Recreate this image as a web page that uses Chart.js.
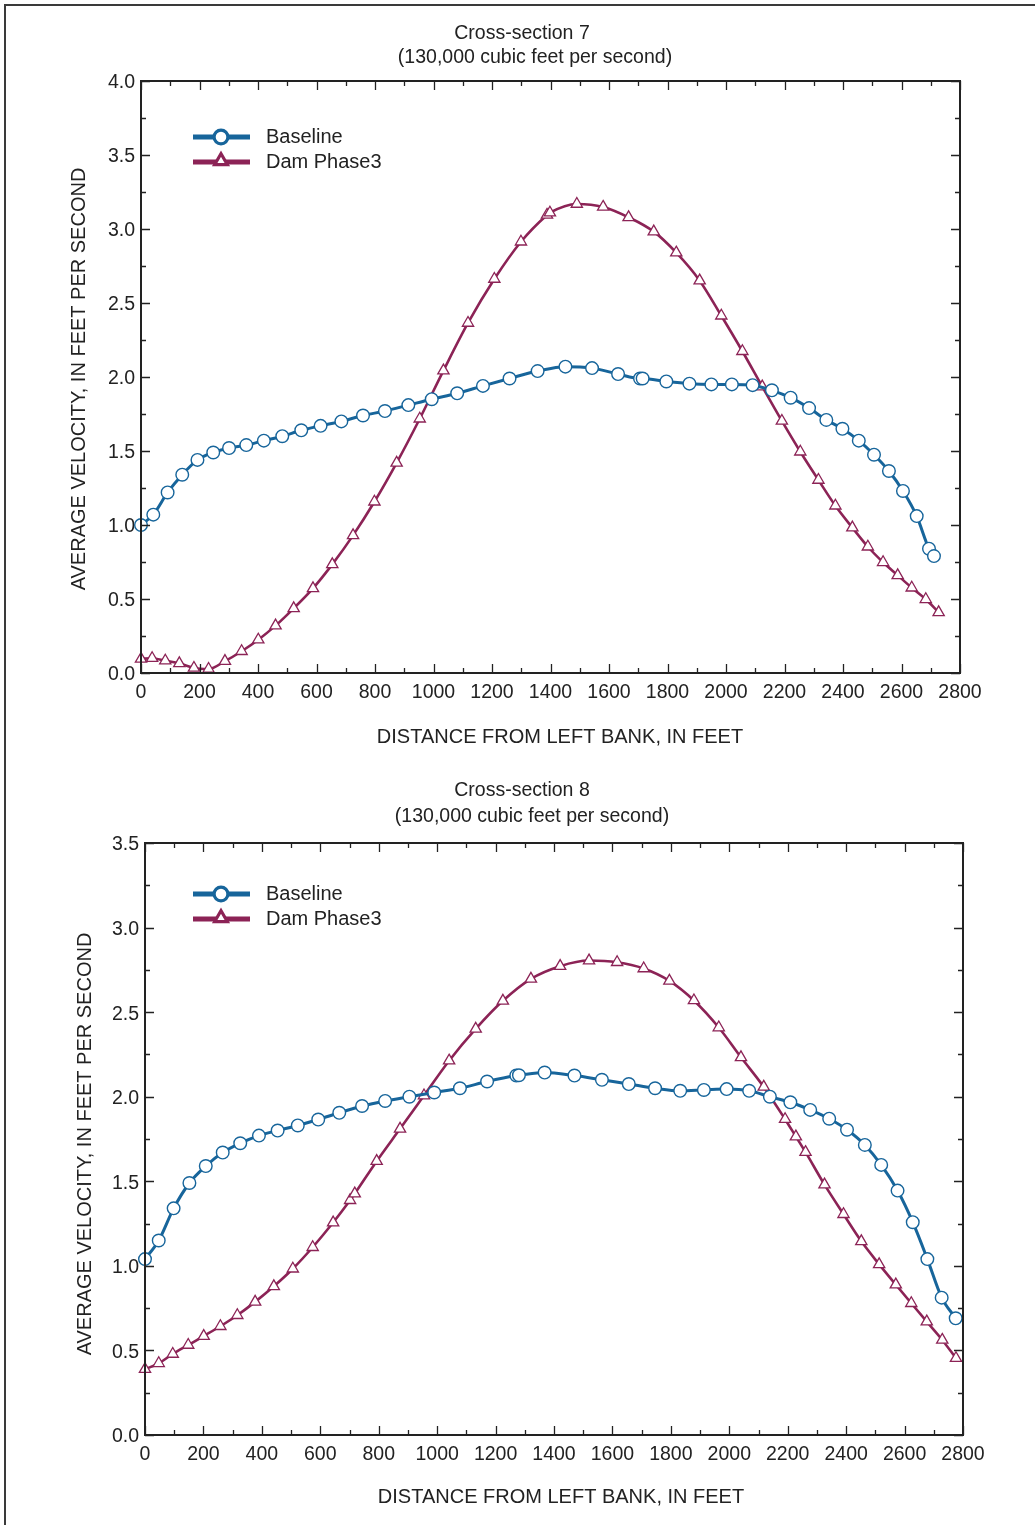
<!DOCTYPE html>
<html>
<head>
<meta charset="utf-8">
<title>Average velocity, cross-sections 7 and 8</title>
<script src="https://cdn.jsdelivr.net/npm/chart.js@4.4.1/dist/chart.umd.min.js"></script>
<style>
    html, body { margin: 0; padding: 0; background: #fff; }
    #page { position: relative; width: 1035px; height: 1525px; overflow: hidden; }
    #frame { position: absolute; left: 4px; top: 4px; width: 1040px; height: 1530px;
             border-left: 2px solid #3a3a3a; border-top: 2px solid #3a3a3a; }
    canvas { position: absolute; left: 0; }
    #chart7 { top: 0; }
    #chart8 { top: 760px; }
</style>
</head>
<body>
<div id="page">
    <div id="frame"></div>
    <canvas id="chart7" width="1035" height="760"></canvas>
    <canvas id="chart8" width="1035" height="765"></canvas>
</div>
<script>
// Cross-section 7 — distance from left bank (ft) and velocity (ft/s)
const xs7Baseline = [0, 42, 91, 141, 193, 247, 301, 360, 420, 483, 548, 614, 685, 759, 834, 914, 994, 1081, 1169, 1260,
    1356, 1451, 1542, 1631, 1706, 1715, 1796, 1875, 1950, 2020, 2091, 2157, 2221, 2284, 2343, 2398, 2454, 2506, 2557, 2605,
    2652, 2694, 2711];
const vel7Baseline = [1.00, 1.07, 1.22, 1.34, 1.44, 1.49, 1.52, 1.54, 1.57, 1.60, 1.64, 1.67, 1.70, 1.74, 1.77, 1.81, 1.85, 1.89, 1.94, 1.99,
    2.04, 2.07, 2.06, 2.02, 1.99, 1.99, 1.97, 1.955, 1.95, 1.95, 1.945, 1.91, 1.86, 1.79, 1.71, 1.65, 1.57, 1.475, 1.365, 1.23,
    1.06, 0.84, 0.79];
const xs7Dam = [0, 38, 83, 131, 181, 231, 287, 344, 401, 460, 522, 588, 654, 725, 798, 874, 953, 1034, 1118, 1208,
    1299, 1388, 1398, 1490, 1580, 1667, 1753, 1830, 1910, 1984, 2056, 2124, 2191, 2254, 2316, 2374, 2432, 2485, 2537, 2587,
    2635, 2683, 2727];
const vel7Dam = [0.095, 0.10, 0.083, 0.065, 0.034, 0.027, 0.08, 0.147, 0.225, 0.32, 0.437, 0.572, 0.734, 0.93, 1.157, 1.42, 1.718, 2.043, 2.365, 2.662,
    2.914, 3.095, 3.11, 3.169, 3.149, 3.079, 2.982, 2.84, 2.651, 2.414, 2.174, 1.935, 1.703, 1.495, 1.304, 1.13, 0.982, 0.853, 0.748, 0.66,
    0.576, 0.498, 0.41];

// Cross-section 8
const xs8Baseline = [0, 47, 98, 152, 208, 266, 326, 390, 454, 523, 593, 665, 743, 822, 905, 990, 1078, 1171, 1271, 1280,
    1368, 1470, 1564, 1656, 1746, 1832, 1913, 1991, 2068, 2139, 2209, 2277, 2342, 2403, 2464, 2520, 2576, 2628, 2678, 2727,
    2775];
const vel8Baseline = [1.04, 1.15, 1.34, 1.49, 1.59, 1.67, 1.725, 1.77, 1.80, 1.83, 1.865, 1.905, 1.945, 1.975, 2.00, 2.025, 2.05, 2.09, 2.125, 2.127,
    2.143, 2.125, 2.10, 2.075, 2.05, 2.035, 2.04, 2.045, 2.035, 2.00, 1.967, 1.922, 1.87, 1.805, 1.715, 1.597, 1.445, 1.258, 1.04, 0.812,
    0.69];
const xs8Dam = [0, 47, 95, 148, 201, 258, 316, 377, 441, 506, 574, 644, 702, 718, 793, 873, 955, 1041, 1132, 1225,
    1321, 1421, 1520, 1616, 1707, 1795, 1879, 1964, 2040, 2118, 2191, 2228, 2261, 2326, 2391, 2452, 2513, 2570, 2623, 2676,
    2729, 2776];
const vel8Dam = [0.389, 0.424, 0.479, 0.532, 0.585, 0.643, 0.708, 0.787, 0.879, 0.983, 1.11, 1.256, 1.388, 1.427, 1.619, 1.81, 2.007, 2.213, 2.401, 2.567,
    2.697, 2.772, 2.805, 2.795, 2.758, 2.685, 2.569, 2.409, 2.233, 2.058, 1.867, 1.764, 1.672, 1.48, 1.305, 1.145, 1.009, 0.889, 0.779, 0.67,
    0.562, 0.454];

// Axis ticks
const xTicks = [0, 200, 400, 600, 800, 1000, 1200, 1400, 1600, 1800, 2000, 2200, 2400, 2600, 2800];
const yTicks7 = [0, 0.5, 1.0, 1.5, 2.0, 2.5, 3.0, 3.5, 4.0];
const yTicks8 = [0, 0.5, 1.0, 1.5, 2.0, 2.5, 3.0, 3.5];

const seriesNames = ['Baseline', 'Dam Phase3'];
const BLUE = '#17659b';
const MAROON = '#8c2356';
const FONT = '"Liberation Sans", Arial, Helvetica, sans-serif';
const INK = '#222';

function toPoints(xs, ys) {
    return xs.map((x, i) => ({ x: x, y: ys[i] }));
}

// Inward ticks on all four sides, the plot box, titles and the legend
const decorPlugin = {
    id: 'decor',
    afterDraw(chart) {
        const o = chart.options.plugins.decor;
        const ctx = chart.ctx;
        const a = chart.chartArea;
        const xs = chart.scales.x;
        const ys = chart.scales.y;
        ctx.save();
        ctx.strokeStyle = INK;
        ctx.lineWidth = 1.3;
        ctx.beginPath();
        for (let v = 0; v <= 2800; v += 100) {
            const px = Math.round(xs.getPixelForValue(v)) + 0.5;
            const len = v % 200 === 0 ? 9 : 5;
            ctx.moveTo(px, a.bottom); ctx.lineTo(px, a.bottom - len);
            ctx.moveTo(px, a.top); ctx.lineTo(px, a.top + len);
        }
        for (let v = 0; v <= o.yMax + 1e-9; v += 0.25) {
            const py = Math.round(ys.getPixelForValue(v)) + 0.5;
            const len = Math.abs(v * 2 - Math.round(v * 2)) < 1e-6 ? 9 : 5;
            ctx.moveTo(a.left, py); ctx.lineTo(a.left + len, py);
            ctx.moveTo(a.right, py); ctx.lineTo(a.right - len, py);
        }
        ctx.stroke();

        ctx.lineWidth = 2;
        ctx.strokeRect(a.left, a.top, a.right - a.left, a.bottom - a.top);

        // Titles
        ctx.fillStyle = INK;
        ctx.font = '19.5px ' + FONT;
        ctx.textAlign = 'center';
        ctx.textBaseline = 'middle';
        ctx.fillText(o.title, o.titleX, o.titleY);
        ctx.fillText(o.subtitle, o.subtitleX, o.titleY + o.subtitleGap);
        ctx.font = '20px ' + FONT;
        ctx.fillText('DISTANCE FROM LEFT BANK, IN FEET', o.xTitleX, o.xTitleY);
        ctx.save();
        ctx.translate(o.yTitleX, o.yTitleY);
        ctx.rotate(-Math.PI / 2);
        ctx.fillText('AVERAGE VELOCITY, IN FEET PER SECOND', 0, 0);
        ctx.restore();

        // Legend
        ctx.font = '20px ' + FONT;
        ctx.textAlign = 'left';
        chart.data.datasets.forEach((ds, i) => {
            const y = o.legendY + i * 25;
            ctx.strokeStyle = ds.borderColor;
            ctx.lineWidth = 5;
            ctx.beginPath();
            ctx.moveTo(o.legendX, y);
            ctx.lineTo(o.legendX + 57, y);
            ctx.stroke();
            Chart.helpers.drawPoint(ctx, {
                pointStyle: ds.pointStyle,
                radius: ds.pointStyle === 'circle' ? 6 : 5.5,
                borderWidth: 1.4,
                rotation: 0
            }, o.legendX + 28, ds.pointStyle === 'circle' ? y : y - 1);
            ctx.fillStyle = '#fff';
            ctx.fill();
            ctx.strokeStyle = ds.borderColor;
            ctx.lineWidth = 1.4;
            ctx.stroke();
            ctx.fillStyle = INK;
            ctx.fillText(ds.label, o.legendX + 73, y);
        });
        ctx.restore();
    }
};

function makeChart(canvasId, cfg) {
    const area = cfg.area;
    const canvas = document.getElementById(canvasId);
    return new Chart(canvas.getContext('2d'), {
        type: 'line',
        data: {
            datasets: [{
                label: seriesNames[0],
                data: toPoints(cfg.bx, cfg.by),
                borderColor: BLUE,
                borderWidth: 3,
                pointStyle: 'circle',
                pointRadius: 6.3,
                pointBorderWidth: 1.4,
                pointBackgroundColor: '#fff',
                pointBorderColor: BLUE,
                cubicInterpolationMode: 'monotone',
                clip: false
            }, {
                label: seriesNames[1],
                data: toPoints(cfg.dx, cfg.dy),
                borderColor: MAROON,
                borderWidth: 2.6,
                pointStyle: 'triangle',
                pointRadius: 6.5,
                pointBorderWidth: 1.3,
                pointBackgroundColor: '#fff',
                pointBorderColor: MAROON,
                cubicInterpolationMode: 'monotone',
                clip: false
            }]
        },
        options: {
            responsive: false,
            animation: false,
            events: [],
            layout: {
                padding: { left: 0, top: area.top, right: canvas.width - area.right, bottom: 0 }
            },
            plugins: {
                legend: { display: false },
                title: { display: false },
                tooltip: { enabled: false },
                decor: cfg.decor
            },
            scales: {
                x: {
                    type: 'linear',
                    min: 0,
                    max: 2800,
                    afterFit(scale) { scale.height = canvas.height - area.bottom; },
                    afterBuildTicks(scale) { scale.ticks = xTicks.map(v => ({ value: v })); },
                    grid: { display: false, drawTicks: false },
                    border: { display: false },
                    ticks: {
                        padding: 8,
                        color: INK,
                        font: { family: FONT, size: 19.5 },
                        maxRotation: 0,
                        autoSkip: false,
                        callback: v => String(v)
                    }
                },
                y: {
                    type: 'linear',
                    min: 0,
                    max: cfg.yTicks[cfg.yTicks.length - 1],
                    afterFit(scale) { scale.width = area.left; },
                    afterBuildTicks(scale) { scale.ticks = cfg.yTicks.map(v => ({ value: v })); },
                    grid: { display: false, drawTicks: false },
                    border: { display: false },
                    ticks: {
                        padding: 6,
                        labelOffset: 2,
                        color: INK,
                        font: { family: FONT, size: 19.5 },
                        callback: v => Number(v).toFixed(1)
                    }
                }
            }
        },
        plugins: [decorPlugin]
    });
}

makeChart('chart7', {
    area: { left: 141, right: 960, top: 81, bottom: 673 },
    bx: xs7Baseline, by: vel7Baseline,
    dx: xs7Dam, dy: vel7Dam,
    yTicks: yTicks7,
    decor: {
        yMax: 4.0,
        title: 'Cross-section 7',
        subtitle: '(130,000 cubic feet per second)',
        titleX: 522, subtitleX: 535, titleY: 34, subtitleGap: 24,
        xTitleX: 560, xTitleY: 737,
        yTitleX: 79, yTitleY: 379,
        legendX: 193, legendY: 137
    }
});

makeChart('chart8', {
    area: { left: 145, right: 963, top: 83, bottom: 675 },
    bx: xs8Baseline, by: vel8Baseline,
    dx: xs8Dam, dy: vel8Dam,
    yTicks: yTicks8,
    decor: {
        yMax: 3.5,
        title: 'Cross-section 8',
        subtitle: '(130,000 cubic feet per second)',
        titleX: 522, subtitleX: 532, titleY: 31, subtitleGap: 26,
        xTitleX: 561, xTitleY: 737,
        yTitleX: 85, yTitleY: 384,
        legendX: 193, legendY: 134
    }
});
</script>
</body>
</html>
